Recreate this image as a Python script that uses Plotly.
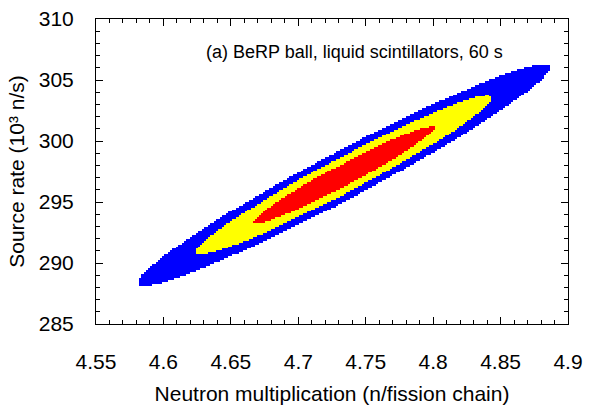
import numpy as np
import plotly.graph_objects as go

# Fit results (best estimate and uncertainties)
center_mult = 4.734          # neutron multiplication (n/fission chain)
center_rate = 297.2          # source rate (10^3 n/s)
sigma_mult = 0.0442
sigma_rate = 2.63
correlation = 0.970
# confidence levels (delta chi-square), inner to outer
levels = [2.30, 6.18, 11.9]
level_colors = ["#ff0000", "#ffff00", "#0000ff"]

x_ticks = [4.55, 4.6, 4.65, 4.7, 4.75, 4.8, 4.85, 4.9]
y_ticks = [285, 290, 295, 300, 305, 310]

# evaluation grid
gx = np.arange(4.55, 4.9 + 1e-9, 0.0015)
gy = np.arange(285, 310 + 1e-9, 0.16)
X, Y = np.meshgrid(gx, gy)
dx = (X - center_mult) / sigma_mult
dy = (Y - center_rate) / sigma_rate
chi2 = (dx**2 - 2 * correlation * dx * dy + dy**2) / (1 - correlation**2)

Z = np.full(chi2.shape, np.nan)
for i in reversed(range(len(levels))):
    Z[chi2 <= levels[i]] = i

n = len(levels)
cs = []
for i, c in enumerate(level_colors):
    cs.append([i / n, c])
    cs.append([(i + 1) / n, c])

fig = go.Figure(go.Heatmap(
    x=gx, y=gy, z=Z, zmin=-0.5, zmax=n - 0.5,
    colorscale=cs, showscale=False, hoverinfo="skip",
))

axis_common = dict(
    showgrid=False, zeroline=False, showline=True, linecolor="black", linewidth=1,
    mirror="ticks", ticks="inside", ticklen=7, tickcolor="black", tickwidth=1,
    tickfont=dict(size=21, color="black"), automargin=False,
)

fig.update_xaxes(
    range=[4.55, 4.9], tickvals=x_ticks, ticktext=[f"{v:g}" for v in x_ticks],
    minor=dict(ticks="inside", ticklen=4, dtick=0.01, tick0=4.55, tickcolor="black", showgrid=False),
    title=dict(text="Neutron multiplication (n/fission chain)", font=dict(size=21, color="black"), standoff=14),
    ticklabelstandoff=19,
    **axis_common,
)
fig.update_yaxes(
    range=[285, 310], tickvals=y_ticks,
    minor=dict(ticks="inside", ticklen=4, dtick=1, tick0=285, tickcolor="black", showgrid=False),
    title=dict(text="Source rate (10³ n/s)", font=dict(size=21, color="black"), standoff=8),
    ticklabelstandoff=17,
    **axis_common,
)

fig.add_annotation(
    x=0.547, y=0.892, xref="paper", yref="paper", xanchor="center", yanchor="middle",
    text="(a) BeRP ball, liquid scintillators, 60 s",
    showarrow=False, font=dict(size=18, color="black"),
)

fig.update_layout(
    width=604, height=405,
    margin=dict(l=96, r=36, t=19, b=81),
    plot_bgcolor="white", paper_bgcolor="white",
    font=dict(family="Liberation Sans, Arial, sans-serif", color="black"),
)

fig.write_html(
    "out.html",
    config={"displayModeBar": False},
    post_script="document.body.style.margin='0';document.body.style.padding='0';",
)
